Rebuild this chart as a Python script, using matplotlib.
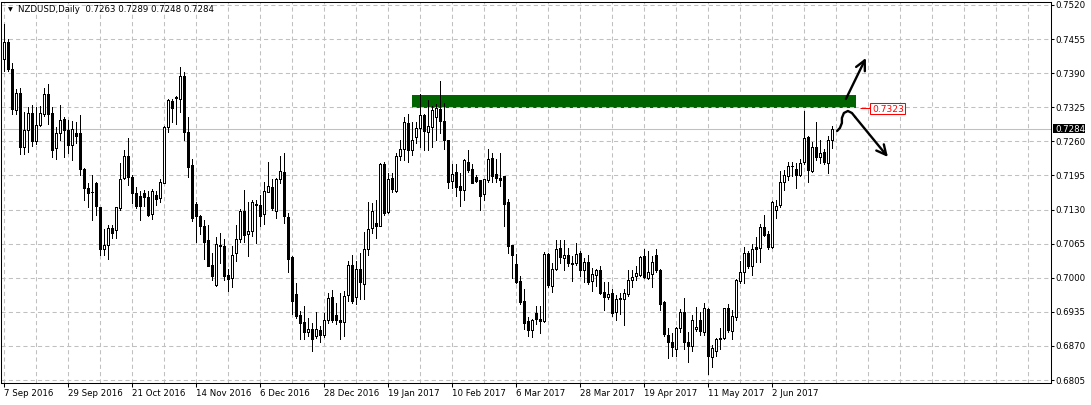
import matplotlib
matplotlib.use("Agg")
import matplotlib.pyplot as plt
from matplotlib.patches import Rectangle
import matplotlib.transforms as mtransforms

# ---------------- data ----------------
symbol_title = "NZDUSD,Daily"

opens = [
    0.7417, 0.7450, 0.7398, 0.7319, 0.7352, 0.7250, 0.7282, 0.7314, 0.7261, 0.7292,
    0.7312, 0.7350, 0.7314, 0.7248, 0.7275, 0.7303, 0.7282, 0.7253, 0.7276, 0.7275,
    0.7208, 0.7172, 0.7164, 0.7180, 0.7134, 0.7055, 0.7062, 0.7095, 0.7091, 0.7132,
    0.7191, 0.7232, 0.7193, 0.7162, 0.7155, 0.7162, 0.7153, 0.7122, 0.7158, 0.7152,
    0.7181, 0.7287, 0.7336, 0.7345, 0.7341, 0.7385, 0.7278, 0.7214, 0.7141, 0.7118,
    0.7099, 0.7071, 0.7025, 0.6987, 0.7063, 0.7061, 0.7006, 0.7000, 0.7048, 0.7073,
    0.7128, 0.7083, 0.7090, 0.7139, 0.7139, 0.7122, 0.7164, 0.7173, 0.7128, 0.7189,
    0.7201, 0.7116, 0.7040, 0.6969, 0.6928, 0.6915, 0.6896, 0.6902, 0.6889, 0.6900,
    0.6890, 0.6919, 0.6963, 0.6929, 0.6920, 0.6915, 0.6968, 0.7025, 0.6964, 0.7016,
    0.6989, 0.7055, 0.7095, 0.7104, 0.7099, 0.7216, 0.7126, 0.7191, 0.7166, 0.7232,
    0.7246, 0.7295, 0.7243, 0.7269, 0.7286, 0.7310, 0.7278, 0.7287, 0.7306, 0.7321,
    0.7298, 0.7263, 0.7185, 0.7201, 0.7174, 0.7167, 0.7221, 0.7208, 0.7193, 0.7187,
    0.7160, 0.7186, 0.7229, 0.7198, 0.7191, 0.7194, 0.7145, 0.7063, 0.7027, 0.6994,
    0.6956, 0.6917, 0.6900, 0.6933, 0.6922, 0.6918, 0.7045, 0.6985, 0.7017, 0.7056,
    0.7038, 0.7044, 0.7028, 0.7029, 0.7048, 0.7015, 0.7030, 0.6994, 0.7006, 0.7014,
    0.6972, 0.6964, 0.6971, 0.6935, 0.6962, 0.6959, 0.6969, 0.6996, 0.7004, 0.7006,
    0.7041, 0.6999, 0.7008, 0.7044, 0.7015, 0.6953, 0.6891, 0.6878, 0.6864, 0.6905,
    0.6934, 0.6877, 0.6870, 0.6903, 0.6920, 0.6896, 0.6941, 0.6848, 0.6860, 0.6886,
    0.6886, 0.6942, 0.6898, 0.6925, 0.6994, 0.7010, 0.7048, 0.7022, 0.7059, 0.7057,
    0.7097, 0.7084, 0.7059, 0.7129, 0.7139, 0.7183, 0.7194, 0.7213, 0.7208, 0.7196,
    0.7220, 0.7269, 0.7204, 0.7250, 0.7230, 0.7240, 0.7219, 0.7263,
]

highs = [
    0.7483, 0.7455, 0.7410, 0.7360, 0.7362, 0.7316, 0.7325, 0.7330, 0.7325, 0.7328,
    0.7362, 0.7370, 0.7325, 0.7288, 0.7330, 0.7306, 0.7301, 0.7298, 0.7296, 0.7311,
    0.7210, 0.7181, 0.7195, 0.7183, 0.7135, 0.7092, 0.7101, 0.7101, 0.7135, 0.7218,
    0.7243, 0.7267, 0.7195, 0.7173, 0.7165, 0.7167, 0.7166, 0.7170, 0.7166, 0.7189,
    0.7290, 0.7341, 0.7341, 0.7347, 0.7402, 0.7393, 0.7306, 0.7227, 0.7145, 0.7120,
    0.7110, 0.7101, 0.7047, 0.7077, 0.7085, 0.7074, 0.7017, 0.7060, 0.7101, 0.7131,
    0.7168, 0.7145, 0.7148, 0.7149, 0.7158, 0.7183, 0.7221, 0.7189, 0.7191, 0.7232,
    0.7237, 0.7123, 0.7042, 0.6990, 0.6936, 0.6946, 0.6923, 0.6913, 0.6934, 0.6908,
    0.6932, 0.6970, 0.6977, 0.6952, 0.6971, 0.6975, 0.7032, 0.7044, 0.7032, 0.7047,
    0.7088, 0.7145, 0.7143, 0.7148, 0.7219, 0.7221, 0.7199, 0.7199, 0.7237, 0.7262,
    0.7307, 0.7312, 0.7297, 0.7297, 0.7350, 0.7312, 0.7338, 0.7328, 0.7331, 0.7375,
    0.7334, 0.7263, 0.7217, 0.7217, 0.7199, 0.7227, 0.7243, 0.7217, 0.7196, 0.7187,
    0.7189, 0.7246, 0.7237, 0.7227, 0.7237, 0.7194, 0.7150, 0.7063, 0.7046, 0.7003,
    0.6978, 0.6925, 0.6921, 0.6946, 0.6946, 0.7049, 0.7047, 0.7028, 0.7072, 0.7072,
    0.7072, 0.7056, 0.7041, 0.7066, 0.7051, 0.7038, 0.7044, 0.7019, 0.7016, 0.7023,
    0.6992, 0.6991, 0.6978, 0.6967, 0.6970, 0.6978, 0.7015, 0.7015, 0.7022, 0.7041,
    0.7054, 0.7051, 0.7041, 0.7054, 0.7017, 0.6956, 0.6905, 0.6894, 0.6907, 0.6941,
    0.6962, 0.6896, 0.6929, 0.6945, 0.6935, 0.6952, 0.6942, 0.6872, 0.6885, 0.6905,
    0.6943, 0.6950, 0.6938, 0.6997, 0.7032, 0.7059, 0.7051, 0.7065, 0.7078, 0.7103,
    0.7120, 0.7090, 0.7147, 0.7149, 0.7204, 0.7205, 0.7221, 0.7221, 0.7218, 0.7227,
    0.7318, 0.7271, 0.7259, 0.7297, 0.7263, 0.7246, 0.7271, 0.7289,
]

lows = [
    0.7394, 0.7394, 0.7312, 0.7312, 0.7235, 0.7235, 0.7240, 0.7252, 0.7255, 0.7290,
    0.7309, 0.7293, 0.7231, 0.7227, 0.7262, 0.7231, 0.7237, 0.7225, 0.7256, 0.7196,
    0.7148, 0.7135, 0.7110, 0.7120, 0.7044, 0.7044, 0.7035, 0.7076, 0.7076, 0.7129,
    0.7189, 0.7177, 0.7142, 0.7132, 0.7110, 0.7136, 0.7118, 0.7112, 0.7139, 0.7145,
    0.7180, 0.7278, 0.7297, 0.7293, 0.7316, 0.7262, 0.7193, 0.7108, 0.7068, 0.7083,
    0.7036, 0.7022, 0.6996, 0.6984, 0.7029, 0.6996, 0.6974, 0.6982, 0.7031, 0.7069,
    0.7069, 0.7041, 0.7079, 0.7067, 0.7099, 0.7103, 0.7163, 0.7129, 0.7114, 0.7180,
    0.7105, 0.7010, 0.6931, 0.6924, 0.6883, 0.6884, 0.6888, 0.6861, 0.6886, 0.6877,
    0.6887, 0.6913, 0.6915, 0.6911, 0.6883, 0.6888, 0.6955, 0.6951, 0.6949, 0.6960,
    0.6960, 0.7044, 0.7085, 0.7076, 0.7098, 0.7120, 0.7123, 0.7164, 0.7163, 0.7224,
    0.7224, 0.7221, 0.7234, 0.7256, 0.7250, 0.7243, 0.7243, 0.7250, 0.7262, 0.7276,
    0.7245, 0.7172, 0.7172, 0.7155, 0.7136, 0.7148, 0.7202, 0.7180, 0.7182, 0.7129,
    0.7148, 0.7182, 0.7182, 0.7183, 0.7174, 0.7098, 0.7047, 0.7000, 0.6990, 0.6950,
    0.6903, 0.6888, 0.6887, 0.6911, 0.6895, 0.6916, 0.6983, 0.6973, 0.7014, 0.7028,
    0.7015, 0.7022, 0.6994, 0.7025, 0.7004, 0.6991, 0.6988, 0.6975, 0.6985, 0.6969,
    0.6938, 0.6959, 0.6927, 0.6920, 0.6930, 0.6910, 0.6966, 0.6982, 0.6996, 0.7004,
    0.6999, 0.6997, 0.6983, 0.7011, 0.6939, 0.6888, 0.6847, 0.6851, 0.6851, 0.6896,
    0.6865, 0.6839, 0.6861, 0.6899, 0.6890, 0.6890, 0.6817, 0.6829, 0.6851, 0.6864,
    0.6883, 0.6896, 0.6883, 0.6920, 0.6990, 0.6990, 0.7019, 0.7005, 0.7030, 0.7030,
    0.7079, 0.7055, 0.7057, 0.7114, 0.7135, 0.7168, 0.7187, 0.7194, 0.7171, 0.7194,
    0.7217, 0.7183, 0.7202, 0.7224, 0.7219, 0.7217, 0.7200, 0.7248,
]

closes = [
    0.7450, 0.7398, 0.7322, 0.7352, 0.7250, 0.7282, 0.7314, 0.7261, 0.7292, 0.7314,
    0.7350, 0.7312, 0.7244, 0.7275, 0.7301, 0.7281, 0.7253, 0.7284, 0.7271, 0.7208,
    0.7172, 0.7162, 0.7163, 0.7136, 0.7054, 0.7062, 0.7095, 0.7085, 0.7134, 0.7189,
    0.7232, 0.7192, 0.7162, 0.7136, 0.7136, 0.7153, 0.7120, 0.7166, 0.7150, 0.7183,
    0.7287, 0.7338, 0.7324, 0.7342, 0.7385, 0.7278, 0.7211, 0.7114, 0.7118, 0.7099,
    0.7068, 0.7023, 0.7004, 0.7065, 0.7060, 0.7003, 0.6998, 0.7044, 0.7074, 0.7128,
    0.7082, 0.7090, 0.7145, 0.7141, 0.7118, 0.7166, 0.7175, 0.7133, 0.7189, 0.7204,
    0.7117, 0.7036, 0.6956, 0.6927, 0.6914, 0.6896, 0.6902, 0.6883, 0.6902, 0.6890,
    0.6919, 0.6961, 0.6919, 0.6919, 0.6915, 0.6965, 0.7025, 0.6955, 0.7016, 0.6991,
    0.7054, 0.7093, 0.7128, 0.7099, 0.7216, 0.7123, 0.7189, 0.7170, 0.7232, 0.7246,
    0.7297, 0.7243, 0.7263, 0.7286, 0.7310, 0.7280, 0.7290, 0.7320, 0.7323, 0.7298,
    0.7263, 0.7183, 0.7198, 0.7173, 0.7167, 0.7224, 0.7206, 0.7181, 0.7185, 0.7155,
    0.7189, 0.7226, 0.7194, 0.7190, 0.7187, 0.7141, 0.7060, 0.7044, 0.6991, 0.6953,
    0.6913, 0.6900, 0.6919, 0.6922, 0.6918, 0.7046, 0.6987, 0.7017, 0.7055, 0.7040,
    0.7044, 0.7028, 0.7027, 0.7046, 0.7015, 0.7030, 0.6992, 0.7008, 0.7015, 0.6971,
    0.6964, 0.6969, 0.6933, 0.6960, 0.6959, 0.6970, 0.6996, 0.7001, 0.7009, 0.7040,
    0.7002, 0.7010, 0.7030, 0.7015, 0.6950, 0.6893, 0.6877, 0.6867, 0.6905, 0.6935,
    0.6877, 0.6869, 0.6919, 0.6907, 0.6898, 0.6942, 0.6850, 0.6866, 0.6884, 0.6883,
    0.6942, 0.6900, 0.6927, 0.6996, 0.7011, 0.7048, 0.7022, 0.7055, 0.7054, 0.7097,
    0.7082, 0.7059, 0.7145, 0.7137, 0.7183, 0.7196, 0.7213, 0.7213, 0.7196, 0.7219,
    0.7266, 0.7205, 0.7249, 0.7230, 0.7238, 0.7221, 0.7263, 0.7284,
]

date_labels = ["7 Sep 2016", "29 Sep 2016", "21 Oct 2016", "14 Nov 2016", "6 Dec 2016",
               "28 Dec 2016", "19 Jan 2017", "10 Feb 2017", "6 Mar 2017", "28 Mar 2017",
               "19 Apr 2017", "11 May 2017", "2 Jun 2017"]
date_label_bars = [0, 16, 32, 48, 64, 80, 96, 112, 128, 144, 160, 176, 192]

price_ticks = [0.6805, 0.6870, 0.6935, 0.7000, 0.7065, 0.7130, 0.7195,
               0.7260, 0.7325, 0.7390, 0.7455, 0.7520]

# resistance zone drawn on the chart
zone_start_bar, zone_end_bar = 102, 213
zone_low, zone_high = 0.7323, 0.7348
zone_label_price = 0.7323

# ---------------- figure ----------------
W, H = 1091, 405
plt.rcParams['font.family'] = ['DejaVu Sans']
fig = plt.figure(figsize=(W / 100, H / 100), dpi=100, facecolor='white')
ax = fig.add_axes([1 / W, 22 / H, 1050 / W, 381 / H])
ax.set_facecolor('white')
ax.set_xlim(-0.625, 261.875)
ax.set_ylim(0.67993, 0.75257)

grid_col = '#c0c0c0'
dash = (0, (4, 3))
lw1 = 0.75
px1 = 0.72  # one pixel in points at 100 dpi

# grid
for gx in range(0, 262, 8):
    ax.axvline(gx, color=grid_col, lw=lw1, ls=dash, zorder=0.5)
for gy in price_ticks:
    ax.axhline(gy, color=grid_col, lw=lw1, ls=dash, zorder=0.5)

# zone rectangle
ax.add_patch(Rectangle((zone_start_bar, zone_low), zone_end_bar - zone_start_bar,
                       zone_high - zone_low, facecolor='#006400', edgecolor='none', zorder=1))
ax.hlines(0.7325, zone_start_bar, zone_end_bar, colors=grid_col, lw=lw1,
          linestyles=dash, zorder=1.2)

# current price line
ax.axhline(closes[-1], color=grid_col, lw=lw1, zorder=1.5)

# candles
n = len(closes)
xs = list(range(n))
ax.vlines(xs, lows, highs, colors='black', lw=px1, zorder=3, antialiased=False)
body_w = 0.5
for i in xs:
    o, c = opens[i], closes[i]
    bull = c >= o
    ax.add_patch(Rectangle((i - body_w / 2, min(o, c)), body_w, abs(c - o),
                           facecolor='white' if bull else 'black',
                           edgecolor='black', lw=px1, zorder=4, antialiased=False))

# axes styling
for sp in ax.spines.values():
    sp.set_color('black')
    sp.set_linewidth(lw1)

ax.yaxis.tick_right()
ax.set_yticks(price_ticks)
ax.set_yticklabels([f"{v:.4f}" for v in price_ticks])
ax.tick_params(axis='y', direction='out', length=2.5, width=lw1, pad=0.8,
               labelsize=6.2, colors='black')
ax.set_xticks(date_label_bars)
ax.set_xticklabels(date_labels, ha='left')
ax.tick_params(axis='x', direction='out', length=3, width=lw1, pad=1.5,
               labelsize=6.2, colors='black')

# current price label on axis
trans = mtransforms.blended_transform_factory(ax.transAxes, ax.transData)
ax.add_patch(Rectangle((1.0017, closes[-1] - 0.00086), 0.031, 0.00172, transform=trans,
                       facecolor='black', edgecolor='none', clip_on=False, zorder=10))
ax.text(1.0040, closes[-1], f"{closes[-1]:.4f}", transform=trans, color='white',
        fontsize=6.2, va='center_baseline', ha='left', clip_on=False, zorder=11)

# zone price label
ax.hlines(zone_label_price, 214.1, 216.6, colors='red', lw=lw1, zorder=6)
ax.add_patch(Rectangle((216.6, zone_label_price - 0.0011), 8.8, 0.0022,
                       facecolor='white', edgecolor='red', lw=lw1, zorder=6))
ax.text(217.1, zone_label_price, f"{zone_label_price:.4f}", color='red', fontsize=6.6,
        va='center_baseline', ha='left', zorder=7)

# hand drawn arrows
arrow_kw = dict(arrowstyle='->,head_length=0.7,head_width=0.35', lw=1.7,
                color='black', shrinkA=0, shrinkB=0)
ax.annotate('', xy=(215.6, 0.7419), xytext=(210.6, 0.73408),
            arrowprops=arrow_kw, annotation_clip=False, zorder=8)
hook_x = [208.4, 209.1, 209.6, 209.6, 210.1, 211.1, 212.1, 212.9]
hook_y = [0.72798, 0.72855, 0.72950, 0.73046, 0.73141, 0.73179, 0.73141, 0.73065]
ax.plot(hook_x, hook_y, color='black', lw=1.7, solid_capstyle='round',
        solid_joinstyle='round', zorder=8)
ax.annotate('', xy=(221.1, 0.72302), xytext=(hook_x[-1], hook_y[-1]),
            arrowprops=arrow_kw, annotation_clip=False, zorder=8)

# title
fig.text(10 / W, 1 - 10 / H, "\u25BC", fontsize=4.5, ha='center', va='center', color='black')
fig.text(18 / W, 1 - 10 / H,
         f"{symbol_title}  {opens[-1]:.4f} {highs[-1]:.4f} {lows[-1]:.4f} {closes[-1]:.4f}",
         fontsize=6.2, ha='left', va='center', color='black')

fig.savefig('out.png', dpi=100, facecolor='white')
